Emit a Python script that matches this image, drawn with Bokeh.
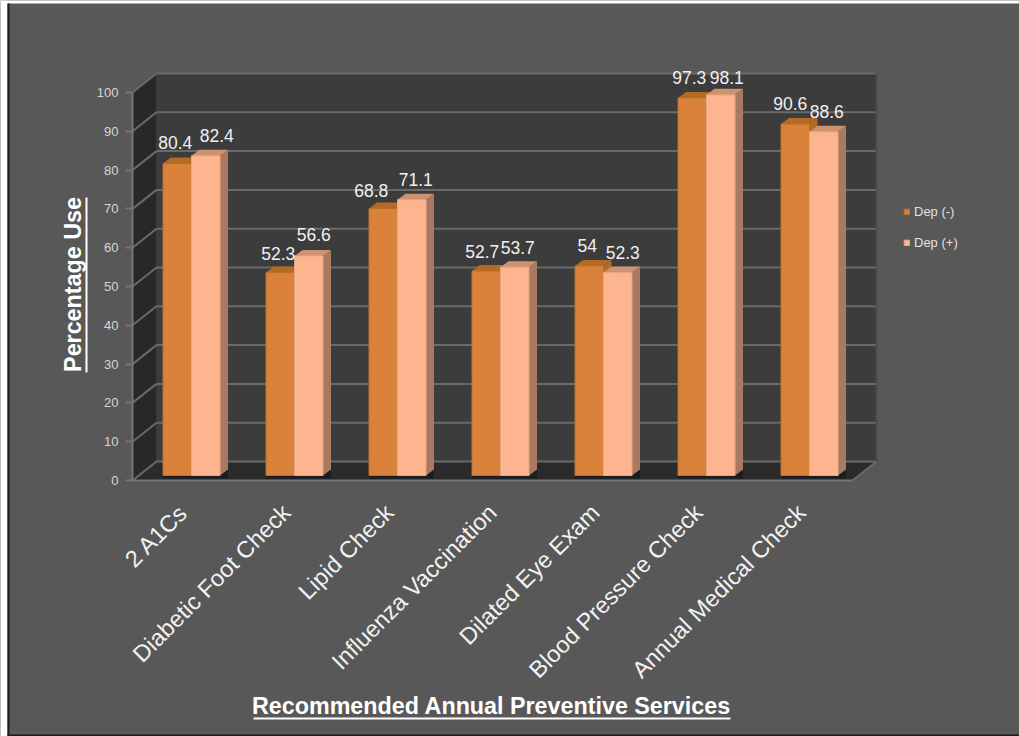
from math import pi

from bokeh.core.properties import value
from bokeh.embed import file_html
from bokeh.models import (BoxAnnotation, FixedTicker, Label, Legend, LegendItem,
                          LinearAxis, Range1d)
from bokeh.plotting import figure
from bokeh.resources import INLINE

# Chart values
services = ["2 A1Cs", "Diabetic Foot Check", "Lipid Check", "Influenza Vaccination",
            "Dilated Eye Exam", "Blood Pressure Check", "Annual Medical Check"]
dep_minus = [80.4, 52.3, 68.8, 52.7, 54, 97.3, 90.6]
dep_plus = [82.4, 56.6, 71.1, 53.7, 52.3, 98.1, 88.6]
y_ticks = list(range(0, 101, 10))

# Pixel nudges for the value labels, which sidestep the bar tops
nudge_x_minus = [-2, -2, -12, -4, -2, -3, -5]
nudge_x_plus = [11, 5, 4, 3, 5, 6, 3]
nudge_y_minus = [-21, -19, -18, -20, -20, -20, -20]
nudge_y_plus = [-20, -21, -20, -20, -20, -17, -20]

# Page geometry in pixels
W, H = 1019, 736
AXIS_LEFT_PX, AXIS_BOTTOM_PX = 132, 480
PX_PER_UNIT_Y = 3.88
PX_PER_CAT = 103.0
FIRST_CAT_PX = 191.0
FLOOR_R_PX = 852.0
WALL_DX, WALL_DY = 24.0, 19.0
BAR_DX, BAR_DY = 8.0, 6.0
BAR_BASE_DY = 5.0
BAR_W = 28.5
LABEL_SHIFT_PX = 8.0


def ux(px):
    return px / PX_PER_CAT


def uy(px):
    return px / PX_PER_UNIT_Y


def data_x(px):
    return (px - FIRST_CAT_PX) / PX_PER_CAT


def data_y(px):
    return (AXIS_BOTTOM_PX - px) / PX_PER_UNIT_Y


BG = "#585858"
x0 = data_x(AXIS_LEFT_PX)
xf = data_x(FLOOR_R_PX)

# The frame fills the page, so the axes are pinned to the front plane of the box
p = figure(width=W, height=H, output_backend="svg", toolbar_location=None,
           x_range=Range1d(data_x(0), data_x(W)), y_range=Range1d(data_y(H), data_y(0)),
           x_axis_type=None, y_axis_type=None,
           min_border_left=0, min_border_right=0, min_border_top=0, min_border_bottom=0)
p.background_fill_color = BG
p.border_fill_color = BG
p.outline_line_color = None
p.grid.visible = False

yaxis = LinearAxis(ticker=FixedTicker(ticks=y_ticks), bounds=(0, 100), fixed_location=x0)
yaxis.axis_line_color = "#757575"
yaxis.axis_line_width = 2
yaxis.major_tick_line_color = "#757575"
yaxis.major_tick_line_width = 2
yaxis.major_tick_in = 0
yaxis.major_tick_out = 7
yaxis.minor_tick_line_color = None
yaxis.major_label_standoff = 7
yaxis.major_label_text_color = "#d6d6d6"
yaxis.major_label_text_font = "Liberation Sans"
yaxis.major_label_text_font_size = "13px"
p.add_layout(yaxis, "left")

cats = list(range(len(services)))
label_ticks = [c - ux(LABEL_SHIFT_PX) for c in cats]
xaxis = LinearAxis(ticker=FixedTicker(ticks=label_ticks), bounds=(x0, xf), fixed_location=0)
xaxis.major_label_overrides = {t: s for t, s in zip(label_ticks, services)}
xaxis.major_label_orientation = pi / 4
xaxis.axis_line_color = "#757575"
xaxis.axis_line_width = 2
xaxis.major_tick_line_color = None
xaxis.minor_tick_line_color = None
xaxis.major_label_standoff = 22
xaxis.major_label_text_color = "#f2f2f2"
xaxis.major_label_text_font = "Liberation Sans"
xaxis.major_label_text_font_size = "23.5px"
p.add_layout(xaxis, "below")

# Box walls and floor
wx, wy = ux(WALL_DX), uy(WALL_DY)
p.patch([x0 + wx, xf + wx, xf + wx, x0 + wx], [wy, wy, 100 + wy, 100 + wy],
        fill_color="#3c3c3c", line_color=None)
p.patch([x0, x0 + wx, x0 + wx, x0], [0, wy, 100 + wy, 100],
        fill_color="#282828", line_color=None)
p.patch([x0, xf, xf + wx, x0 + wx], [0, 0, wy, wy], fill_color="#2b2b2b", line_color=None)

# Gridlines run along the back wall and down the side wall
p.segment([x0 + wx] * len(y_ticks), [t + wy for t in y_ticks],
          [xf + wx] * len(y_ticks), [t + wy for t in y_ticks],
          line_color="#6a6a6a", line_width=2)
p.segment([x0] * len(y_ticks), y_ticks, [x0 + wx] * len(y_ticks), [t + wy for t in y_ticks],
          line_color="#6a6a6a", line_width=2)
p.segment([xf], [0], [xf + wx], [wy], line_color="#6a6a6a", line_width=2)
p.segment([xf + wx], [wy], [xf + wx], [100 + wy], line_color="#4c4c4c", line_width=2)

base = uy(BAR_BASE_DY)
bw = ux(BAR_W)
bdx, bdy = ux(BAR_DX), uy(BAR_DY)

# Soft contact shadow under each pair of bars
p.quad(left=[c - bw for c in cats], right=[c + bw + bdx for c in cats],
       bottom=[base - uy(3)] * len(cats), top=[base + bdy] * len(cats),
       fill_color="#161a20", fill_alpha=0.75, line_color=None)


def draw_series(values, lefts, face, edge, top_col, side_col):
    """One series of 3D bars: right side, top face, then front face."""
    rights = [l + bw for l in lefts]
    tops = [base + v for v in values]
    p.patches([[r, r + bdx, r + bdx, r] for r in rights],
              [[base, base + bdy, t + bdy, t] for t in tops],
              fill_color=side_col, line_color=None)
    p.patches([[l, r, r + bdx, l + bdx] for l, r in zip(lefts, rights)],
              [[t, t, t + bdy, t + bdy] for t in tops],
              fill_color=top_col, line_color=None)
    return p.quad(left=lefts, right=rights, bottom=[base] * len(values), top=tops,
                  fill_color=face, line_color=edge, line_width=1)


r_minus = draw_series(dep_minus, [c - bw for c in cats],
                      "#da823a", "#b9702f", "#b56a24", "#b06a2c")
r_plus = draw_series(dep_plus, cats,
                     "#fdb58f", "#e8a682", "#cf9270", "#a97a61")

# Value labels above the bars
label_style = dict(text_color="#f0f0f0", text_font=value("Liberation Sans"),
                   text_font_size="17.5px", text_align="center", text_baseline="middle")
for vals, lefts, nx, ny in ((dep_minus, [c - bw for c in cats], nudge_x_minus, nudge_y_minus),
                            (dep_plus, cats, nudge_x_plus, nudge_y_plus)):
    p.text([l + bw / 2 for l in lefts], [base + v for v in vals],
           text=[f"{v:g}" for v in vals], x_offset=nx, y_offset=ny, **label_style)

# Legend to the right of the box
legend = Legend(items=[LegendItem(label="Dep (-)", renderers=[r_minus]),
                       LegendItem(label="Dep (+)", renderers=[r_plus])],
                location=(903, H - 250), orientation="vertical",
                background_fill_alpha=0, border_line_color=None,
                glyph_width=7, glyph_height=7, label_width=40, label_height=14,
                label_standoff=4, spacing=16, padding=0, margin=0,
                label_text_color="#e2e2e2", label_text_font="Liberation Sans",
                label_text_font_size="13px")
p.add_layout(legend, "center")


def page_box(left, right, top, bottom, color):
    p.add_layout(BoxAnnotation(left=data_x(left), right=data_x(right),
                               top=data_y(top), bottom=data_y(bottom),
                               fill_color=color, fill_alpha=1, line_color=None,
                               level="overlay"))


# Axis titles with their rules beneath them
title_style = dict(text_color="#ffffff", text_font="Liberation Sans", text_font_style="bold",
                   text_align="center", text_baseline="middle", text_font_size="23.3px")
p.add_layout(Label(x=data_x(491), y=data_y(705),
                   text="Recommended Annual Preventive Services", **title_style))
p.add_layout(Label(x=data_x(72), y=data_y(284), text="Percentage Use", angle=pi / 2,
                   **title_style))
page_box(253, 730, 717, 719, "#ffffff")
page_box(85, 87, 197, 372, "#ffffff")

# Page edges: pale margin, then the dark rule around the panel
page_box(0, 7, 0, H, "#ffffff")
page_box(0, W, 0, 3, "#ffffff")
page_box(7, 9, 3, H, "#1c1c1c")
page_box(7, W, 734, H, "#1c1c1c")

open("out.html", "w").write(file_html(p, INLINE))
